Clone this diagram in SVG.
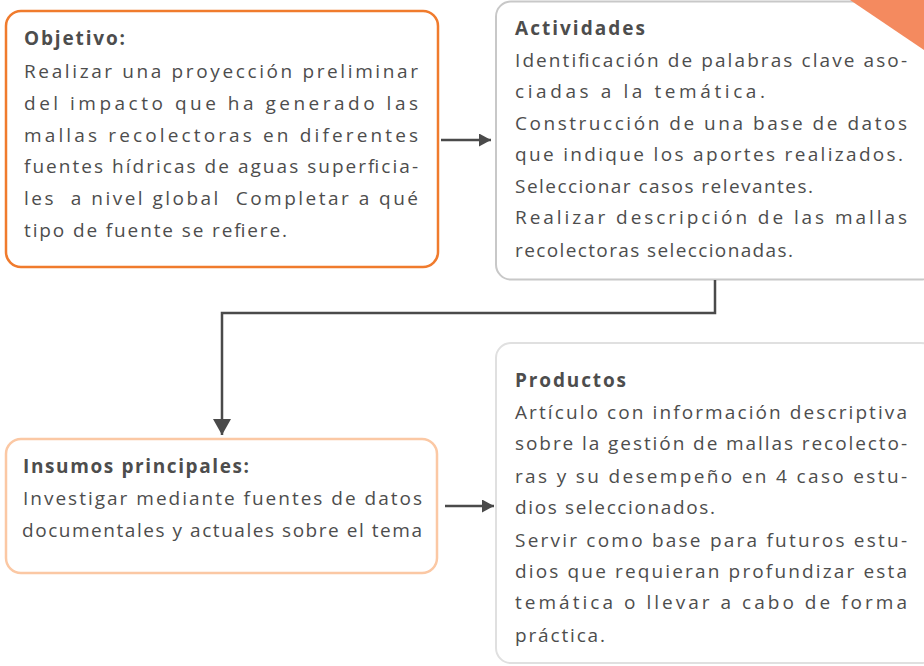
<svg xmlns="http://www.w3.org/2000/svg" width="924" height="666" viewBox="0 0 924 666">
<style>
.t{font-family:"Open Sans",Lato,"Liberation Sans",sans-serif;font-size:19px;fill:#4d4d4d}
.b{font-weight:bold}
.box{fill:#ffffff}
.c{fill:none;stroke:#4a4a4a;stroke-width:2.5}
</style>
<defs>
<marker id="ah" viewBox="0 0 12 13" refX="12" refY="6.5" markerWidth="12" markerHeight="13" markerUnits="userSpaceOnUse" orient="auto"><path d="M0,0 L12,6.5 L0,13 Z" fill="#4a4a4a"/></marker>
<marker id="ahd" viewBox="0 0 16 18" refX="16" refY="9" markerWidth="16" markerHeight="18" markerUnits="userSpaceOnUse" orient="auto"><path d="M0,0 L16,9 L0,18 Z" fill="#4a4a4a"/></marker>
</defs>
<rect width="924" height="666" fill="#ffffff"/>

<g id="objetivo">
<rect class="box" x="6" y="11" width="432" height="256" rx="15" stroke="#f07b2d" stroke-width="2.5"/>
<text class="t b" x="24" y="45" textLength="101" lengthAdjust="spacing">Objetivo:</text>
<text class="t" x="24" y="78" textLength="394" lengthAdjust="spacing">Realizar una proyección preliminar</text>
<text class="t" x="24" y="110" textLength="394" lengthAdjust="spacing">del impacto que ha generado las</text>
<text class="t" x="24" y="142" textLength="394" lengthAdjust="spacing">mallas recolectoras en diferentes</text>
<text class="t" x="24" y="173" textLength="394" lengthAdjust="spacing">fuentes hídricas de aguas superficia-</text>
<text class="t" x="24" y="205" textLength="394" lengthAdjust="spacing" xml:space="preserve">les  a nivel global  Completar a qué</text>
<text class="t" x="24" y="237" textLength="263" lengthAdjust="spacing">tipo de fuente se refiere.</text>
</g>

<g id="actividades">
<rect class="box" x="496" y="1.5" width="440" height="278" rx="15" stroke="#c8c8c8" stroke-width="2"/>
<polygon points="850,0 924,0 924,50" fill="#f48a5f"/>
<text class="t b" x="515" y="35" textLength="130" lengthAdjust="spacing">Actividades</text>
<text class="t" x="515" y="67" textLength="392" lengthAdjust="spacing">Identificación de palabras clave aso-</text>
<text class="t" x="515" y="98" textLength="250" lengthAdjust="spacing">ciadas a la temática.</text>
<text class="t" x="515" y="130" textLength="392" lengthAdjust="spacing">Construcción de una base de datos</text>
<text class="t" x="515" y="161" textLength="388" lengthAdjust="spacing">que indique los aportes realizados.</text>
<text class="t" x="515" y="193" textLength="298" lengthAdjust="spacing">Seleccionar casos relevantes.</text>
<text class="t" x="515" y="224" textLength="392" lengthAdjust="spacing">Realizar descripción de las mallas</text>
<text class="t" x="515" y="257" textLength="278" lengthAdjust="spacing">recolectoras seleccionadas.</text>
</g>

<g id="insumos">
<rect class="box" x="6" y="439" width="431" height="134" rx="15" stroke="#fbc8a4" stroke-width="2.5"/>
<text class="t b" x="23" y="473" textLength="226" lengthAdjust="spacing">Insumos principales:</text>
<text class="t" x="23" y="505" textLength="399" lengthAdjust="spacing">Investigar mediante fuentes de datos</text>
<text class="t" x="22" y="537" textLength="400" lengthAdjust="spacing">documentales y actuales sobre el tema</text>
</g>

<g id="productos">
<rect class="box" x="496" y="343" width="440" height="320" rx="15" stroke="#e0e0e0" stroke-width="2"/>
<text class="t b" x="515" y="387" textLength="111" lengthAdjust="spacing">Productos</text>
<text class="t" x="515" y="419" textLength="392" lengthAdjust="spacing">Artículo con información descriptiva</text>
<text class="t" x="515" y="450" textLength="392" lengthAdjust="spacing">sobre la gestión de mallas recolecto-</text>
<text class="t" x="515" y="483" textLength="392" lengthAdjust="spacing">ras y su desempeño en 4 caso estu-</text>
<text class="t" x="515" y="514" textLength="200" lengthAdjust="spacing">dios seleccionados.</text>
<text class="t" x="515" y="547" textLength="392" lengthAdjust="spacing">Servir como base para futuros estu-</text>
<text class="t" x="515" y="578" textLength="392" lengthAdjust="spacing">dios que requieran profundizar esta</text>
<text class="t" x="515" y="609" textLength="392" lengthAdjust="spacing">temática o llevar a cabo de forma</text>
<text class="t" x="515" y="642" textLength="90" lengthAdjust="spacing">práctica.</text>
</g>

<g id="connectors">
<path class="c" d="M441,140 H491" marker-end="url(#ah)"/>
<path class="c" d="M715,280 V313 H222 V435" marker-end="url(#ahd)"/>
<path class="c" d="M445,506 H494" marker-end="url(#ah)"/>
</g>
</svg>
